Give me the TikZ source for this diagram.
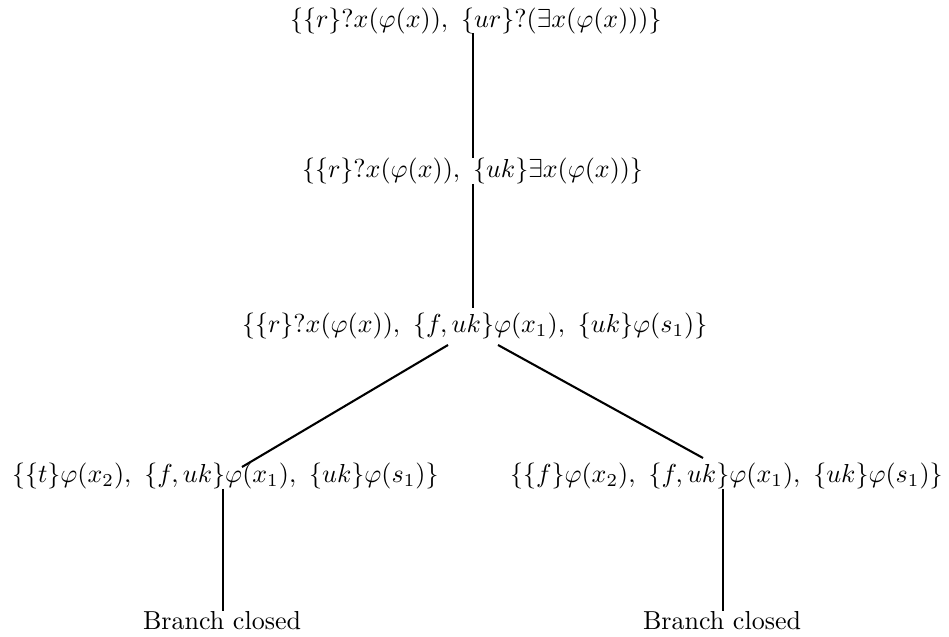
\documentclass[tikz,border=0pt]{standalone}
\begin{document}
\begin{tikzpicture}[x=0.3846pt,y=-0.3846pt,
  lbl/.style={anchor=base west,inner sep=0pt,outer sep=0pt},
  edge/.style={line width=0.8pt}]
\useasboundingbox (0,0) rectangle (949,637);
\node[lbl] (n1) at (290,28) {$\{\{r\}?x(\varphi(x)),\ \{ur\}?(\exists x(\varphi(x)))\}$};
\node[lbl] (n2) at (302,178) {$\{\{r\}?x(\varphi(x)),\ \{uk\}\exists x(\varphi(x))\}$};
\node[lbl] (n3) at (242,333) {$\{\{r\}?x(\varphi(x)),\ \{f,uk\}\varphi(x_1),\ \{uk\}\varphi(s_1)\}$};
\node[lbl] (n4) at (12,483) {$\{\{t\}\varphi(x_2),\ \{f,uk\}\varphi(x_1),\ \{uk\}\varphi(s_1)\}$};
\node[lbl] (n5) at (510,483) {$\{\{f\}\varphi(x_2),\ \{f,uk\}\varphi(x_1),\ \{uk\}\varphi(s_1)\}$};
\node[lbl] (n6) at (143,630) {Branch closed};
\node[lbl] (n7) at (643,630) {Branch closed};
\coordinate (a1) at (473,33);
\coordinate (b1) at (473,158);
\coordinate (a2) at (473,184);
\coordinate (b2) at (473,308);
\coordinate (a3) at (448,345);
\coordinate (b3) at (242,467);
\coordinate (a4) at (498,345);
\coordinate (b4) at (703,458);
\coordinate (a5) at (223,489);
\coordinate (b5) at (223,611);
\coordinate (a6) at (723,489);
\coordinate (b6) at (723,611);
\draw[edge] (a1) -- (b1);
\draw[edge] (a2) -- (b2);
\draw[edge] (a3) -- (b3);
\draw[edge] (a4) -- (b4);
\draw[edge] (a5) -- (b5);
\draw[edge] (a6) -- (b6);
\end{tikzpicture}
\end{document}
